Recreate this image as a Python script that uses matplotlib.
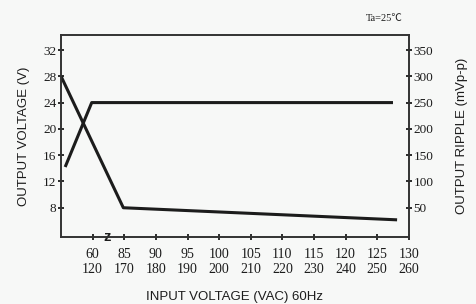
import numpy as np
import matplotlib.pyplot as plt

# x positions are tick slots: 1 -> 60/120 V, 2 -> 85/170 V, ... 11 -> 130/260 V
x_top = ["60", "85", "90", "95", "100", "105", "110", "115", "120", "125", "130"]
x_bot = ["120", "170", "180", "190", "200", "210", "220", "230", "240", "250", "260"]
x_labels = [a + "\n" + b for a, b in zip(x_top, x_bot)]

volt_pos = [0.13, 0.97, 10.5]
volt_val = [14.2, 24.0, 24.0]          # output voltage (V)
ripple_pos = [0.0, 1.97, 10.63]
ripple_val = [300.0, 50.0, 27.0]       # output ripple (mVp-p)

v_ticks = [8, 12, 16, 20, 24, 28, 32]
r_ticks = [50, 100, 150, 200, 250, 300, 350]

BG = "#f7f8f7"
INK = "#1c1c1c"
serif = ["Liberation Serif", "DejaVu Serif"]
sans = ["Liberation Sans Narrow", "Liberation Sans", "Noto Sans CJK SC"]

fig = plt.figure(figsize=(4.77, 3.04), dpi=100, facecolor=BG)
ax = fig.add_axes([0.128, 0.22, 0.729, 0.665], facecolor=BG)
ax2 = ax.twinx()

vlim = (3.53, 34.29)
ax.set_ylim(*vlim)
ax2.set_ylim((vlim[0] - 8) * 12.5 + 50, (vlim[1] - 8) * 12.5 + 50)
ax.set_xlim(0, 11)

ax.plot(volt_pos, volt_val, color=INK, lw=2.2, solid_capstyle="butt")
ax2.plot(ripple_pos, ripple_val, color=INK, lw=2.2, solid_capstyle="butt")

ax.set_xticks(range(1, 12))
ax.set_xticklabels(x_labels, family=serif, fontsize=10, linespacing=1.25)
ax.set_yticks(v_ticks)
ax.set_yticklabels([str(v) for v in v_ticks], family=serif, fontsize=9.5)
ax2.set_yticks(r_ticks)
ax2.set_yticklabels([str(v) for v in r_ticks], family=serif, fontsize=9.5)

for a in (ax, ax2):
    a.tick_params(direction="inout", length=5, width=1.3, colors=INK, pad=1)
    for s in a.spines.values():
        s.set_linewidth(1.2)
        s.set_color("#333333")
ax.tick_params(axis="x", pad=5)

# axis break mark between 60 and 85
ax.text(1.45, vlim[0], "z", family=sans, fontsize=10.5, fontweight="bold",
        ha="center", va="center", color=INK, clip_on=False)

ax.set_ylabel("OUTPUT VOLTAGE (V)", family=sans, fontsize=9.5, color=INK, labelpad=9)
ax2.set_ylabel("OUTPUT RIPPLE (mVp-p)", family=sans, fontsize=9.5, color=INK, labelpad=16)
ax.set_xlabel("INPUT VOLTAGE (VAC) 60Hz", family=sans, fontsize=9.5, color=INK, labelpad=11)
fig.text(0.805, 0.94, "Ta=25℃", family=["Liberation Serif", "Noto Sans CJK SC"],
         fontsize=7.5, color=INK, ha="center", va="center")

fig.savefig("out.png", dpi=100, facecolor=BG)
